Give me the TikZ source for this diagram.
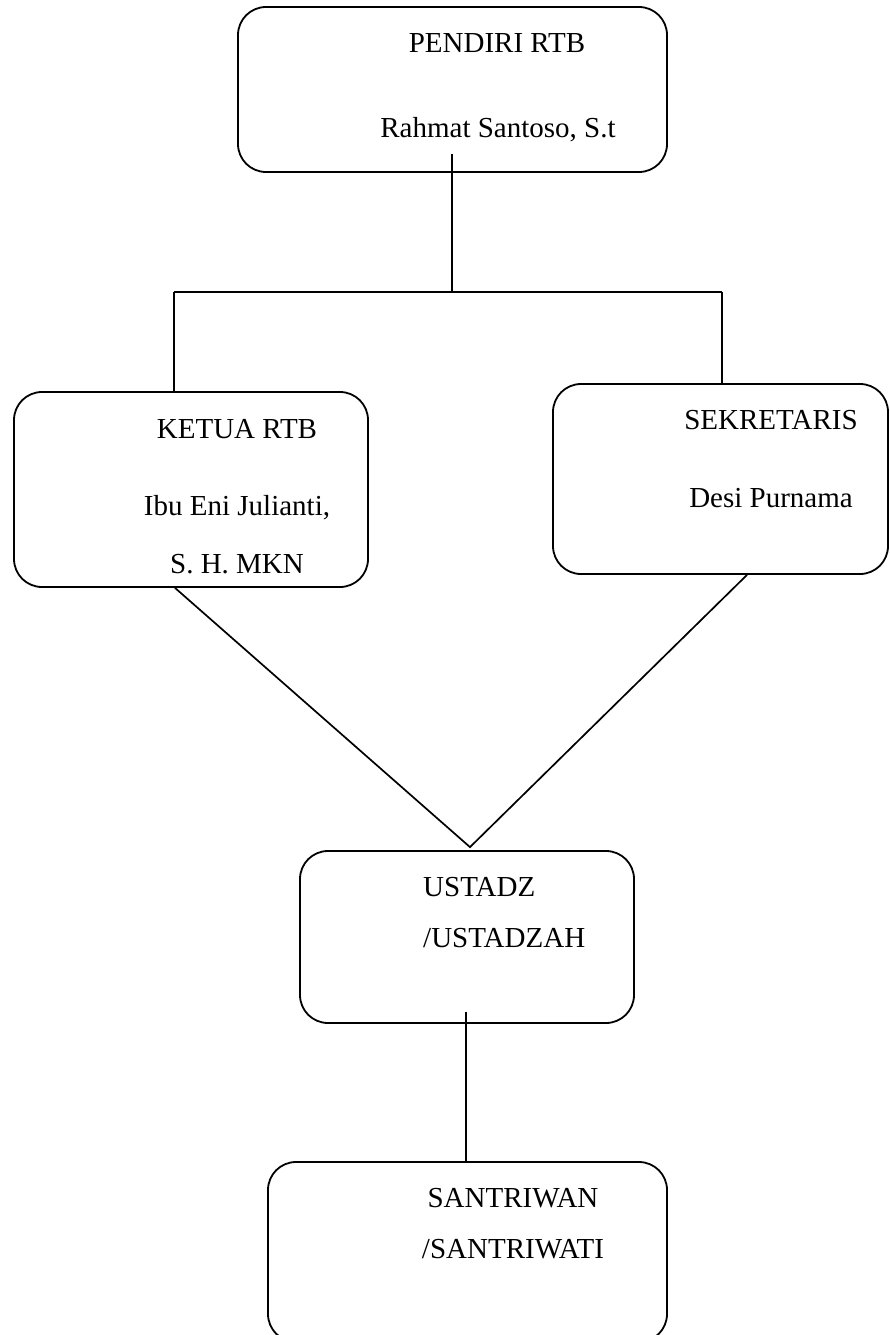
\documentclass[tikz,border=0pt]{standalone}
\usepackage{fontspec}
\setmainfont{Liberation Serif}
\usepackage{tikz}
\usetikzlibrary{calc}

\begin{document}
\begin{tikzpicture}[x=1pt,y=-1pt,
  box/.style={draw,line width=1.8pt,rounded corners=28pt,inner sep=0pt},
  link/.style={line width=1.7pt},
  boxtext/.style={anchor=base,inner sep=0pt,font=\fontsize{29}{34}\selectfont}]
\useasboundingbox (0,0) rectangle (889,1335);
% the boxes
\node[box,minimum width=429pt,minimum height=165pt] (pendiri) at (452.5,89.5) {};
\node[box,minimum width=354pt,minimum height=195pt] (ketua) at (191,489.5) {};
\node[box,minimum width=335pt,minimum height=190pt] (sekretaris) at (720.5,479) {};
\node[box,minimum width=334pt,minimum height=172pt] (ustadz) at (467,937) {};
\node[box,minimum width=399pt,minimum height=180pt] (santri) at (467.5,1252) {};
% the names in the boxes
\node[boxtext] (pendiriA) at (497,53) {PENDIRI RTB};
\node[boxtext] (pendiriB) at (498,138) {Rahmat Santoso, S.t};
\node[boxtext] (ketuaA) at (237,438) {KETUA RTB};
\node[boxtext] (ketuaB) at (237,515) {Ibu Eni Julianti,};
\node[boxtext] (ketuaC) at (237,573) {S. H. MKN};
\node[boxtext] (sekretarisA) at (771,429) {SEKRETARIS};
\node[boxtext] (sekretarisB) at (771,507) {Desi Purnama};
\node[boxtext,anchor=base west] (ustadzA) at (423,896) {USTADZ};
\node[boxtext,anchor=base west] (ustadzB) at (423,947) {/USTADZAH};
\node[boxtext] (santriA) at (513,1207) {SANTRIWAN};
\node[boxtext] (santriB) at (513,1258) {/SANTRIWATI};
% the bus under the founder
\coordinate (top) at ($(pendiri.south)+(-0.5,-19)$);
\coordinate (bus) at (452,293);
\coordinate (busL) at ($(ketua.north)+(-17,-99)$);
\coordinate (busR) at ($(sekretaris.north)+(1.5,-91)$);
\draw[link] (top) -- (bus);
\draw[link] (busL) -- (busR);
\draw[link] (busL) -- (busL |- ketua.north);
\draw[link] (busR) -- (busR |- sekretaris.north);
% the two slanted lines
\coordinate (meet) at ($(ustadz.north)+(3,-3)$);
\draw[link] ($(ketua.south)+(-16,0)$) -- (meet) -- ($(sekretaris.south)+(26.5,0)$);
% down to the students
\coordinate (down) at ($(ustadz.south)+(-1,-12)$);
\draw[link] (down) -- (down |- santri.north);
\end{tikzpicture}
\end{document}
